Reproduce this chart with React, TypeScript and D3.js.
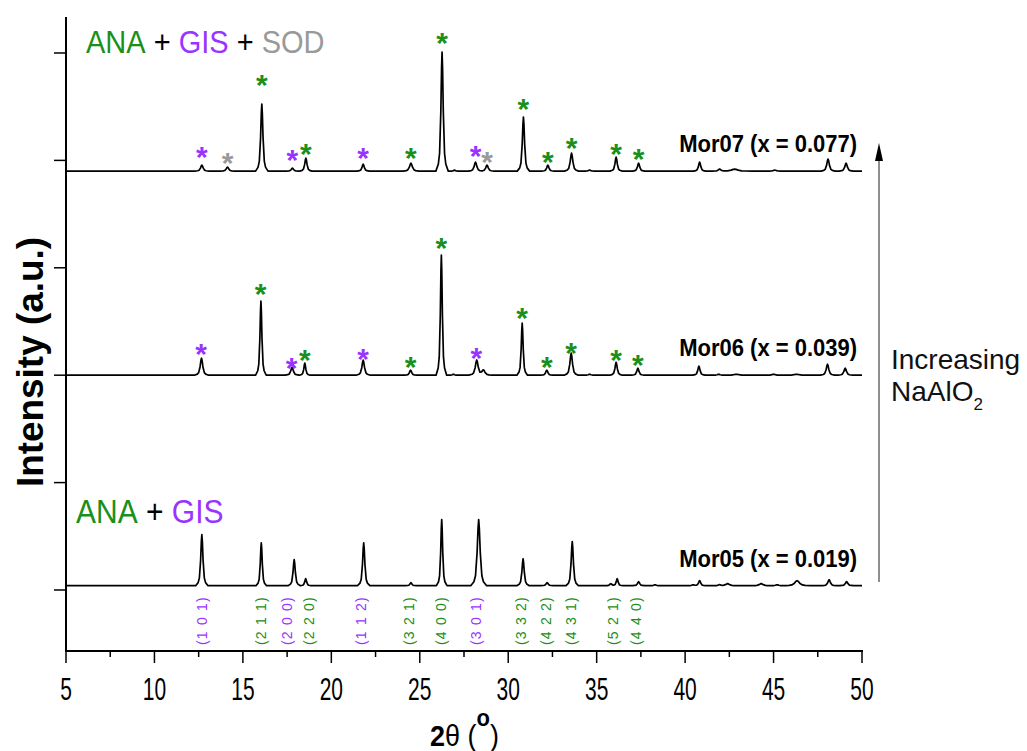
import React from 'react';
import * as d3 from 'd3';

const W = 1027;
const H = 751;

// [2θ (°), peak height (a.u.), half width at half max (°)]
const mor05Peaks: [number, number, number][] = [
  [12.68, 475, 0.07], [16.04, 400, 0.06], [17.9, 242, 0.07], [18.55, 65, 0.06],
  [21.83, 400, 0.07], [24.5, 28, 0.06], [26.24, 615, 0.06], [28.33, 615, 0.09],
  [30.84, 251, 0.07], [32.2, 28, 0.07], [33.62, 410, 0.07], [35.8, 19, 0.07],
  [36.16, 65, 0.06], [37.37, 37, 0.07], [38.3, 9, 0.08], [40.45, 9, 0.08],
  [40.82, 47, 0.07], [41.95, 9, 0.08], [42.4, 19, 0.12], [44.3, 19, 0.12],
  [45.2, 9, 0.1], [46.33, 47, 0.15], [48.14, 56, 0.08], [49.13, 37, 0.08],
];
const mor06Peaks: [number, number, number][] = [
  [12.66, 158, 0.08], [16.02, 689, 0.06], [17.78, 74, 0.08], [18.5, 112, 0.06],
  [21.8, 140, 0.08], [24.48, 47, 0.07], [26.22, 1117, 0.06], [26.9, 9, 0.06],
  [28.22, 140, 0.09], [28.6, 47, 0.1], [30.79, 484, 0.06], [32.18, 47, 0.07],
  [33.56, 205, 0.08], [34.6, 9, 0.08], [36.1, 121, 0.07], [37.33, 65, 0.07],
  [40.78, 84, 0.07], [41.9, 9, 0.08], [42.9, 9, 0.15], [45.0, 9, 0.1],
  [46.3, 9, 0.15], [48.05, 102, 0.08], [49.05, 65, 0.08],
];
const mor07Peaks: [number, number, number][] = [
  [12.68, 56, 0.08], [14.13, 37, 0.08], [16.07, 624, 0.07], [17.8, 28, 0.07],
  [18.56, 121, 0.07], [21.8, 65, 0.07], [24.5, 74, 0.09], [26.26, 1108, 0.07],
  [26.96, 9, 0.06], [28.15, 84, 0.08], [28.8, 56, 0.08], [30.86, 503, 0.07],
  [32.24, 56, 0.07], [33.58, 168, 0.08], [34.6, 9, 0.08], [36.1, 130, 0.07],
  [37.37, 74, 0.07], [40.82, 84, 0.07], [41.95, 19, 0.08], [42.8, 19, 0.2],
  [45.07, 9, 0.1], [48.08, 112, 0.08], [49.1, 74, 0.08],
];

const sampleNames = ['Mor05 (x = 0.019)', 'Mor06 (x = 0.039)', 'Mor07 (x = 0.077)'];
const sampleOffsets = [40, 2000, 3900];
const samplePeaks = [mor05Peaks, mor06Peaks, mor07Peaks];

// [2θ, marker level (a.u.), phase]
const mor06Stars: [number, number, string][] = [
  [12.64, 2253, 'GIS'], [16.0, 2812, 'ANA'], [17.75, 2123, 'GIS'], [18.5, 2197, 'ANA'],
  [21.8, 2206, 'GIS'], [24.48, 2132, 'ANA'], [26.22, 3240, 'ANA'], [28.2, 2216, 'GIS'],
  [30.79, 2588, 'ANA'], [32.18, 2132, 'ANA'], [33.56, 2262, 'ANA'], [36.1, 2197, 'ANA'],
  [37.33, 2151, 'ANA'],
];
const mor07Stars: [number, number, string][] = [
  [12.68, 4087, 'GIS'], [14.13, 4031, 'SOD'], [16.07, 4757, 'ANA'], [17.8, 4059, 'GIS'],
  [18.56, 4115, 'ANA'], [21.8, 4078, 'GIS'], [24.5, 4078, 'ANA'], [26.26, 5148, 'ANA'],
  [28.15, 4096, 'GIS'], [28.8, 4040, 'SOD'], [30.86, 4534, 'ANA'], [32.24, 4040, 'ANA'],
  [33.58, 4171, 'ANA'], [36.1, 4115, 'ANA'], [37.37, 4068, 'ANA'],
];

// Miller indices: [label, 2θ, phase]
const hklLabels: [string, number, string][] = [
  ['(1 0 1)', 12.7, 'GIS'], ['(2 1 1)', 16.0, 'ANA'], ['(2 0 0)', 17.52, 'GIS'],
  ['(2 2 0)', 18.75, 'ANA'], ['(1 1 2)', 21.68, 'GIS'], ['(3 2 1)', 24.41, 'ANA'],
  ['(4 0 0)', 26.2, 'ANA'], ['(3 0 1)', 28.19, 'GIS'], ['(3 3 2)', 30.73, 'ANA'],
  ['(4 2 2)', 32.15, 'ANA'], ['(4 3 1)', 33.57, 'ANA'], ['(5 2 1)', 35.92, 'ANA'],
  ['(4 4 0)', 37.24, 'ANA'],
];

const xTicks = [5, 10, 15, 20, 25, 30, 35, 40, 45, 50];
const yTicks = [0, 1000, 2000, 3000, 4000, 5000];

const phaseColor: Record<string, string> = { ANA: '#1a8f1a', GIS: '#9933ff', SOD: '#999999' };

const PROFILE: [number, number][] = [
  [-5, 0], [-3, 0.06], [-2, 0.15], [-1, 0.5], [-0.4, 0.87], [0, 1],
  [0.4, 0.87], [1, 0.5], [2, 0.15], [3, 0.06], [5, 0],
];

function profileAt(u: number): number {
  if (u <= PROFILE[0][0] || u >= PROFILE[PROFILE.length - 1][0]) return 0;
  for (let i = 1; i < PROFILE.length; i++) {
    const [u1, v1] = PROFILE[i];
    if (u <= u1) {
      const [u0, v0] = PROFILE[i - 1];
      return v0 + ((v1 - v0) * (u - u0)) / (u1 - u0);
    }
  }
  return 0;
}

function trace(peaks: [number, number, number][], offset: number): [number, number][] {
  const xs = new Set<number>([5, 50]);
  peaks.forEach(([p, , w]) => PROFILE.forEach(([u]) => xs.add(p + u * w)));
  const sorted = [...xs].filter((v) => v >= 5 && v <= 50).sort((a, b) => a - b);
  return sorted.map((t) => [t, offset + d3.sum(peaks, ([p, h, w]) => h * profileAt((t - p) / w))]);
}

const FONT = '"Liberation Sans", Arial, Helvetica, sans-serif';

export default function App() {
  const x = d3.scaleLinear().domain([5, 50]).range([66, 862]);
  const y = d3.scaleLinear().domain([-568, 5335]).range([651, 17]);
  const line = d3
    .line<[number, number]>()
    .x((d) => x(d[0]))
    .y((d) => y(d[1]));
  const minorX = d3.range(7.5, 50, 5);

  return (
    <svg width={W} height={H} style={{ position: 'absolute', left: 0, top: 0 }} fontFamily={FONT}>
      <rect width={W} height={H} fill="#fff" />
      {/* traces */}
      {samplePeaks.map((pk, i) => (
        <path key={i} d={line(trace(pk, sampleOffsets[i])) || ''} fill="none" stroke="#000" strokeWidth={1.7} strokeLinejoin="round" />
      ))}
      {/* sample labels */}
      {sampleNames.map((n, i) => (
        <text key={n} transform={`translate(${x(49.72)},${y(sampleOffsets[i]) - 19}) scale(1,1.1)`} textAnchor="end" fontSize={22} fontWeight="bold">
          {n}
        </text>
      ))}
      {/* stars */}
      {[mor06Stars, mor07Stars].map((arr, j) =>
        arr.map(([t, v, ph], i) => (
          <text key={`${j}-${i}`} x={x(t)} y={y(v) + 16} textAnchor="middle" fontSize={30} fontWeight="bold" fill={phaseColor[ph]}>
            *
          </text>
        ))
      )}
      {/* hkl labels, vertical */}
      <g transform="rotate(-90)">
        {hklLabels.map(([lab, t, ph]) => (
          <text key={lab + t} x={-645} y={x(t) + 5} textAnchor="start" fontSize={14} letterSpacing={1.2} fill={phaseColor[ph]}>
            {lab}
          </text>
        ))}
      </g>
      {/* phase legends */}
      <g transform="translate(86,53) scale(1,1.1)">
        <text x={0} y={0} fontSize={29}>
          <tspan fill={phaseColor.ANA}>ANA</tspan>
          <tspan fill="#000"> + </tspan>
          <tspan fill={phaseColor.GIS}>GIS</tspan>
          <tspan fill="#000"> + </tspan>
          <tspan fill={phaseColor.SOD}>SOD</tspan>
        </text>
      </g>
      <g transform="translate(76,523) scale(1,1.1)">
        <text x={0} y={0} fontSize={30}>
          <tspan fill={phaseColor.ANA}>ANA</tspan>
          <tspan fill="#000"> + </tspan>
          <tspan fill={phaseColor.GIS}>GIS</tspan>
        </text>
      </g>
      {/* axes */}
      <line x1={66} x2={66} y1={y(5335)} y2={652} stroke="#000" strokeWidth={2} />
      {yTicks.map((v) => (
        <line key={v} x1={54} x2={66} y1={y(v)} y2={y(v)} stroke="#000" strokeWidth={1.5} />
      ))}
      <line x1={65} x2={863} y1={651} y2={651} stroke="#000" strokeWidth={2} />
      {xTicks.map((v) => (
        <line key={v} x1={x(v)} x2={x(v)} y1={651} y2={663} stroke="#000" strokeWidth={1.5} />
      ))}
      {minorX.map((v) => (
        <line key={v} x1={x(v)} x2={x(v)} y1={651} y2={657} stroke="#000" strokeWidth={1.5} />
      ))}
      {xTicks.map((v) => (
        <g key={v} transform={`translate(${x(v)},700) scale(1,1.45)`}>
          <text x={0} y={0} textAnchor="middle" fontSize={21}>
            {v}
          </text>
        </g>
      ))}
      {/* axis titles */}
      <g transform="translate(430,746) scale(1,1.12)">
        <text x={0} y={0} fontSize={27}>
          <tspan fontWeight="bold">2</tspan>
          <tspan>θ (</tspan>
          <tspan fontWeight="bold" fontSize={22} dy={-18}>o</tspan>
          <tspan dy={18}>)</tspan>
        </text>
      </g>
      <g transform="translate(43,362) rotate(-90)">
        <text x={0} y={0} textAnchor="middle" fontSize={36} fontWeight="bold" textLength={250} lengthAdjust="spacingAndGlyphs">
          Intensity (a.u.)
        </text>
      </g>
      {/* arrow */}
      <line x1={879} x2={879} y1={160} y2={582} stroke="#444" strokeWidth={1.2} />
      <path d="M879,143 L875,161 L883,161 Z" fill="#000" />
      <text x={891} y={369} fontSize={28} fill="#111">Increasing</text>
      <text x={891} y={401} fontSize={28} fill="#111">
        NaAlO<tspan fontSize={17} dy={9}>2</tspan>
      </text>
    </svg>
  );
}
